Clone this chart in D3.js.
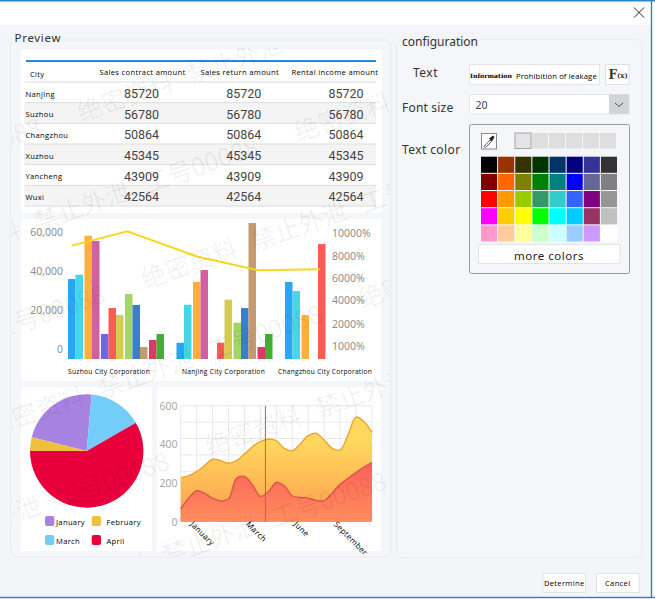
<!DOCTYPE html>
<html><head><meta charset="utf-8">
<style>
html,body{margin:0;padding:0;background:#fff;overflow:hidden}
svg{display:block}
text{font-family:"Noto Sans",Roboto,sans-serif}
.tiny{font-family:"Open Sans","Noto Sans",sans-serif;font-size:7.6px;fill:#000;letter-spacing:.32px}
</style>
<script src="https://cdn.jsdelivr.net/npm/d3@7"></script>
</head><body><svg id="c" width="655" height="599"></svg>
<script>
// ---------- table ----------
const tableHeaders = ["City","Sales contract amount","Sales return amount","Rental income amount"];
const cities = ["Nanjing","Suzhou","Changzhou","Xuzhou","Yancheng","Wuxi"];
const contractAmount = [85720,56780,50864,45345,43909,42564];
const returnAmount   = [85720,56780,50864,45345,43909,42564];
const rentalAmount   = [85720,56780,50864,45345,43909,42564];
// ---------- combo chart ----------
const corporations = ["Suzhou City Corporation","Nanjing City Corporation","Changzhou City Corporation"];
const barBlue   = [35900,3200,34400];
const barCyan   = [38100,22700,29700];
const barOrange = [58100,34400,17400];
const barPink   = [55400,40500,null];
const barPurple = [7700,null,null];
const barRed    = [21000,3200,53800];
const barOlive  = [17400,25300,null];
const barLime   = [28200,13500,null];
const barNavy   = [22600,21000,null];
const barTan    = [1000,64600,null];
const barRose   = [4600,1000,null];
const barGreen  = [7700,7700,null];
const barColors = ["#2aa6f6","#45d6e8","#ffb03b","#d0609f","#6f66e8","#fb5a55","#d4cc4e","#a2d665","#3a7fcf","#c49a6e","#dc3a62","#43ad38"];
const leftTicks = [0,20000,40000,60000];
const rightTicks = [1000,2000,4000,6000,8000,10000];
const lineOrder = [0,22.4,50.4,75.2,100];
const lineRate  = [8900,10150,7950,6700,6800];
// ---------- pie ----------
const pieMonths = ["January","March","April","February"];
const pieShares = [22.5,15.3,58.3,3.9];
const pieColors = ["#a882e0","#74cdf8","#e8003c","#efbf3e"];
const legendMonths = ["January","February","March","April"];
// ---------- area ----------
const areaSteps = d3.range(25);
const areaUpper = [228,238,259,290,323,316,302,316,350,388,414,428,419,379,367,402,445,457,422,379,371,450,541,517,462];
const areaLower = [66,121,160,147,121,107,117,224,234,190,131,155,203,186,133,126,122,110,109,147,193,224,255,283,305];
const areaTicks = [0,200,400,600];
const areaLabelSteps = [1,8,14,19];
const areaLabels = ["January","March","June","September"];
const areaMarkerStep = 10.63;
// ---------- picker ----------
const paletteRows = [
 ["#000000","#993300","#333300","#003300","#003366","#000080","#333399","#333333"],
 ["#800000","#ff6600","#808000","#008000","#008080","#0000ff","#666699","#808080"],
 ["#ff0000","#ff9900","#99cc00","#339966","#33cccc","#3366ff","#800080","#969696"],
 ["#ff00ff","#ffcc00","#ffff00","#00ff00","#00ffff","#00ccff","#993366","#c0c0c0"],
 ["#ff99cc","#ffcc99","#ffff99","#ccffcc","#ccffff","#99ccff","#cc99ff","#ffffff"]];
const recentColors = ["#e4e4e4","#dedede","#dedede","#dedede","#dedede","#dedede"];
const watermarkParts = ["绝密资料","禁止外泄","工号00088"];

const svg = d3.select("#c");
const rect=(g,x,y,w,h,fill,stroke,rx)=>g.append("rect").attr("x",x).attr("y",y).attr("width",w).attr("height",h).attr("fill",fill||"none").attr("stroke",stroke||"none").attr("rx",rx||0);
const label=(g,x,y,t,size,fill,extra)=>{const e=g.append("text").attr("x",x).attr("y",y).attr("dominant-baseline","central").attr("font-size",size).attr("fill",fill||"#222").text(t);if(extra)extra(e);return e;};

// window chrome
rect(svg,0,0,655,599,"#ffffff");
rect(svg,0,25,651,572,"#f4f5f8");
svg.append("path").attr("d","M0 .7H655M0 597.5H655M651.5 0V598").attr("stroke","#2b86c9").attr("stroke-width",1.4).attr("fill","none");
svg.append("path").attr("d","M634 7.5L644 17.5M644 7.5L634 17.5").attr("stroke","#222").attr("stroke-width",1);

// group boxes
rect(svg,10.5,40,380.5,517,"#f5f6f9","#e9eaee",6);
rect(svg,396.5,39.5,245.5,518,"#f5f6f9","#e9eaee",6);
rect(svg,13,32,48,12,"#f4f5f8");
rect(svg,400,35,80,10,"#f4f5f8");
label(svg,14.5,37.5,"Preview",11.5,"#333",e=>e.attr("letter-spacing",.7));
label(svg,402,41,"configuration",12,"#333",e=>e.attr("letter-spacing",0));

// ===== table =====
rect(svg,21,50,361,163,"#fff");
const rowY = d3.scaleBand().domain(cities).range([82,206]);
const colX = d3.scalePoint().domain(d3.range(3)).range([141.5,346]);
const tbl = svg.append("g");
tbl.selectAll(".stripe").data(cities.filter((_,i)=>i%2===1)).join("rect").attr("x",24).attr("width",352)
  .attr("y",d=>rowY(d)).attr("height",rowY.bandwidth()).attr("fill","#f4f4f4");
tbl.append("line").attr("x1",26).attr("x2",376).attr("y1",61).attr("y2",61).attr("stroke","#1e88f0").attr("stroke-width",2);
tbl.selectAll(".sep").data([82].concat(cities.map(c=>rowY(c)+rowY.bandwidth()))).join("line")
  .attr("x1",25).attr("x2",376).attr("y1",d=>d).attr("y2",d=>d).attr("stroke","#dcdcdc");
const headX=[30,99.5,200.5,291.5], headY=[74,72,72,71.5];
tableHeaders.forEach((h,i)=>label(tbl,headX[i],headY[i],h,7.6,"#000").attr("class","tiny"));
cities.forEach((c,i)=>{
  label(tbl,25.5,rowY(c)+rowY.bandwidth()/2+1.2,c,7.6,"#000").attr("class","tiny");
  [contractAmount,returnAmount,rentalAmount].forEach((arr,j)=>
    label(tbl,colX(j),rowY(c)+rowY.bandwidth()/2+1,arr[i],12.5,"#444").attr("text-anchor","middle").style("font-family","Roboto"));
});

// ===== combo =====
rect(svg,21,219,360,162,"#fff");
const yL = d3.scaleLinear().domain([0,60000]).range([349,232]);
const yR = d3.scaleLinear().domain(rightTicks).range([346,324,300,278,256,233]);
const x0 = d3.scaleBand().domain(corporations).range([68,393.5]);
const barSeries = [barBlue,barCyan,barOrange,barPink,barPurple,barRed,barOlive,barLime,barNavy,barTan,barRose,barGreen];
const clusterOf = [0,0,1,1,2,2,2,3,3,3,4,4];
const slotW = 7.5, clusterGap = 1.5, baseY = 359;
const slotX = s => s*slotW + clusterOf[s]*clusterGap;
// the third corporation's red bar sits one slot earlier than the red series elsewhere
const slotFor = (s,c) => (c===2 && s===5) ? 4 : s;
const bars = svg.append("g");
barSeries.forEach((vals,s)=>{
  bars.selectAll(null).data(corporations.map((c,ci)=>({c,ci,v:vals[ci]})).filter(d=>d.v!=null)).join("rect")
    .attr("x",d=>x0(d.c)+slotX(slotFor(s,d.ci))).attr("width",slotW)
    .attr("y",d=>yL(d.v)).attr("height",d=>baseY-yL(d.v)).attr("fill",barColors[s]);
});
// axes are drawn with their tick labels placed directly at the plot's edge
const styleAxis=(ax,x,fill)=>{ax.select(".domain").remove();ax.selectAll("line").remove();
  ax.selectAll("text").attr("x",x).attr("font-size",10.5).attr("fill",fill).style("font-family","Noto Sans");};
const axL = svg.append("g").call(d3.axisLeft(yL).tickValues(leftTicks).tickSize(0).tickPadding(0).tickFormat(d3.format(",")));
styleAxis(axL,63,"#8f8f8f");
const axR = svg.append("g").call(d3.axisRight(yR).tickValues(rightTicks).tickSize(0).tickPadding(0).tickFormat(d=>d+"%"));
styleAxis(axR,332,"#8f8f8f");
const xLine = d3.scaleLinear().domain([0,100]).range([71.7,320]);
svg.append("path").datum(lineRate).attr("fill","none").attr("stroke","#f8d81e").attr("stroke-width",2)
  .attr("d",d3.line().x((d,i)=>xLine(lineOrder[i])).y(d=>yR(d)));
const corpLabelShift=[0,5.5,-7], corpLabelWidth=[82,83,94];
corporations.forEach((c,i)=>label(svg,x0(c)+corpLabelShift[i],370.5,c,7.4,"#000").attr("class","tiny")
  .attr("textLength",corpLabelWidth[i]).attr("lengthAdjust","spacingAndGlyphs"));

// ===== pie =====
rect(svg,21,387,131,164,"#fff");
const pieG = svg.append("g").attr("transform","translate(86.7,451)");
const pieGen = d3.pie().sort(null).startAngle(284*Math.PI/180).endAngle((284+360)*Math.PI/180);
pieG.selectAll("path").data(pieGen(pieShares)).join("path").attr("d",d3.arc().innerRadius(0).outerRadius(56.7)).attr("fill",(d,i)=>pieColors[i]);
const legX = d3.scalePoint().domain([0,1]).range([45,91.7]);
const legY = d3.scalePoint().domain([0,1]).range([516,535]);
const legendTextX=[56,106.5];
legendMonths.forEach((m,i)=>{
  const cx=i%2, cy=Math.floor(i/2);
  rect(svg,legX(cx),legY(cy),9.3,10,pieColors[pieMonths.indexOf(m)],null,2);
  label(svg,legendTextX[cx],legY(cy)+5.5,m,7.6,"#000").attr("class","tiny");
});

// ===== area =====
rect(svg,157,387,224,164,"#fff");
const xA = d3.scaleLinear().domain([0,24]).range([180.7,372]);
const yA = d3.scaleLinear().domain([0,600]).range([521.7,405.7]);
const defs = svg.append("defs");
const grad=(id,y1,y2,a,b)=>{const g=defs.append("linearGradient").attr("id",id).attr("gradientUnits","userSpaceOnUse").attr("x1",0).attr("x2",0).attr("y1",y1).attr("y2",y2);
  g.append("stop").attr("offset",0).attr("stop-color",a);g.append("stop").attr("offset",1).attr("stop-color",b);};
grad("gU",440,525,"#ffd95e","#fd9a4e");
grad("gL",445,522,"#f95558","#ff8d5d");
const gridG=svg.append("g").attr("stroke","#e9e9e9");
d3.range(13).forEach(i=>gridG.append("line").attr("x1",xA(i*2)).attr("x2",xA(i*2)).attr("y1",405.7).attr("y2",521.7));
d3.range(8).forEach(i=>gridG.append("line").attr("x1",180.7).attr("x2",372).attr("y1",405.7+i*16.4).attr("y2",405.7+i*16.4));
const crv=d3.curveCatmullRom.alpha(.5);
const drawA=(vals,fill,st)=>{
  svg.append("path").datum(vals).attr("fill",fill).attr("d",d3.area().x((d,i)=>xA(areaSteps[i])).y0(yA(0)).y1(d=>yA(d)).curve(crv));
  svg.append("path").datum(vals).attr("fill","none").attr("stroke",st).attr("stroke-width",1.4).attr("d",d3.line().x((d,i)=>xA(areaSteps[i])).y(d=>yA(d)).curve(crv));
};
drawA(areaUpper,"url(#gU)","#f0a22e");
drawA(areaLower,"url(#gL)","#d9574b");
svg.append("line").attr("class","marker").attr("x1",xA(areaMarkerStep)).attr("x2",xA(areaMarkerStep)).attr("y1",405.7).attr("y2",521.7).style("stroke","#e0505a").style("stroke-width",1);
const axA=svg.append("g").call(d3.axisLeft(yA).tickValues(areaTicks).tickSize(0).tickPadding(0));
styleAxis(axA,177.5,"#a9a9a9");
const axX=svg.append("g").attr("transform","translate(0,521.7)").call(d3.axisBottom(xA).tickValues(areaLabelSteps).tickSize(0).tickPadding(0).tickFormat((d,i)=>areaLabels[i]));
axX.select(".domain").remove();
axX.selectAll("line").remove();
axX.selectAll("text").attr("class","tiny").attr("text-anchor","start").attr("dy",0).attr("y",0)
  .attr("transform","translate(.5,3) rotate(45)").style("font-size","8px");

// ===== config panel =====
const cfg=svg.append("g");
label(cfg,413,72.5,"Text",12,"#333",e=>e.attr("letter-spacing",.5));
label(cfg,402,107.5,"Font size",12,"#333",e=>e.attr("letter-spacing",.2));
label(cfg,402,149,"Text color",12,"#333",e=>e.attr("letter-spacing",.4));
rect(cfg,469.5,64.5,130,20,"#fff","#e4e5e8");
label(cfg,470,75.5,"Information",6,"#000").style("font-family","DejaVu Serif").style("font-weight","bold").attr("textLength",42).attr("lengthAdjust","spacingAndGlyphs");
label(cfg,516,75.5,"Prohibition of leakage",7.6,"#000").attr("class","tiny").attr("textLength",81);
rect(cfg,605.5,64.5,23.5,20,"#fff","#dfe0e4");
label(cfg,608.5,75,"F",12,"#333").style("font-family","DejaVu Serif").style("font-weight","bold");
label(cfg,617,75.5,"(x)",7,"#333").style("font-family","DejaVu Serif").style("font-weight","bold");
rect(cfg,469.5,94.5,159.5,19.5,"#fff","#e4e5e8");
rect(cfg,609,94.5,20,19.5,"#d2d5d8");
cfg.append("path").attr("d","M615 103L619 106.5L623 103").attr("fill","none").attr("stroke","#555").attr("stroke-width",1);
label(cfg,475.5,105,"20",10.5,"#444");
rect(cfg,469.5,124.5,160,149,"#f5f6f9","#9a9a9a",2);
rect(cfg,481.5,133.5,15,15.5,"#fff","#8a8a8a");
cfg.append("path").attr("d","M484 146.5L490 140L491.5 141.5L485.5 147.5Z").attr("fill","#fff").attr("stroke","#333").attr("stroke-width",.8);
cfg.append("path").attr("d","M489 138.5L493 135.5L494.5 137L492 141.5Z").attr("fill","#222");
const recX=d3.scaleLinear().domain([0,1]).range([515,532]);
cfg.selectAll(".rec").data(recentColors).join("rect").attr("x",(d,i)=>recX(i)).attr("y",133).attr("width",16).attr("height",15.5)
  .attr("fill",d=>d).attr("stroke",(d,i)=>i===0?"#a5a5a5":"none");
const palX=d3.scaleBand().domain(d3.range(8)).range([481,617]).paddingInner(.06);
const palY=d3.scaleBand().domain(d3.range(5)).range([156.7,241.5]).paddingInner(.06);
paletteRows.forEach((row,j)=>cfg.selectAll(null).data(row).join("rect").attr("x",(d,i)=>palX(i)).attr("y",palY(j)).attr("width",palX.bandwidth()).attr("height",palY.bandwidth()).attr("fill",d=>d));
rect(cfg,478.5,244.5,141.5,19,"#fff","#e2e3e6");
label(cfg,549,255,"more colors",11.5,"#222",e=>e.attr("text-anchor","middle").attr("letter-spacing",.5));
rect(cfg,543,573.5,42.5,19,"#fff","#e2e3e6");
label(cfg,564.2,583,"Determine",7.4,"#000").attr("class","tiny").attr("text-anchor","middle");
rect(cfg,596.5,573.5,42.5,19,"#fff","#e2e3e6");
label(cfg,617.7,583,"Cancel",7.4,"#000").attr("class","tiny").attr("text-anchor","middle");

// ===== watermark =====
defs.append("clipPath").attr("id","wmClip").append("rect").attr("x",12).attr("y",48).attr("width",378).attr("height",508);
const wm=svg.append("g").attr("clip-path","url(#wmClip)").attr("pointer-events","none");
const slope=Math.tan(19*Math.PI/180);
d3.range(0,7).forEach(line=>{
  const startX=((90-153*line)%370+370)%370;
  d3.range(-2,2).forEach(k=>{
    const px=startX+k*370, py=77.5+94.5*line-slope*(px-182);
    const g=wm.append("g").attr("transform",`translate(${px},${py}) rotate(-19)`);
    watermarkParts.forEach((t,i)=>g.append("text").attr("x",-12.5+i*116).attr("y",9).attr("font-size",25)
      .style("font-family","Noto Sans CJK SC").attr("fill","#000").attr("fill-opacity",.06).text(t));
  });
});
</script></body></html>
